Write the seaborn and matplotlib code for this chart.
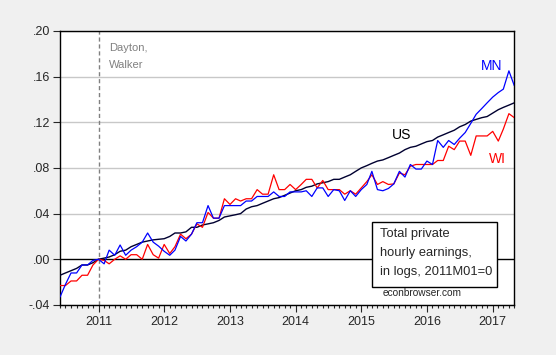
import matplotlib
matplotlib.use("Agg")
import matplotlib.pyplot as plt
import matplotlib.dates as mdates
from matplotlib.patches import Rectangle
from matplotlib.ticker import FuncFormatter
import pandas as pd
import seaborn as sns

# Monthly data, 2010M06 - 2017M05, log earnings relative to 2011M01
months = pd.date_range("2010-06-01", periods=84, freq="MS")

mn = [-0.033, -0.022, -0.012, -0.012, -0.005, -0.005, -0.001, 0.000,
      -0.004, 0.008, 0.0035, 0.0125, 0.0035, 0.008, 0.011, 0.015, 0.023, 0.015, 0.0115, 0.007,
      0.0035, 0.008, 0.020, 0.016, 0.022, 0.032, 0.032, 0.047, 0.036, 0.036, 0.047, 0.047,
      0.047, 0.047, 0.051, 0.051, 0.055, 0.055, 0.055, 0.059, 0.055, 0.055, 0.059, 0.059,
      0.059, 0.060, 0.055, 0.0625, 0.0625, 0.055, 0.061, 0.060, 0.0515, 0.060, 0.055, 0.061,
      0.0655, 0.077, 0.061, 0.060, 0.062, 0.066, 0.077, 0.072, 0.083, 0.079, 0.079, 0.086,
      0.083, 0.104, 0.098, 0.104, 0.1005, 0.106, 0.111, 0.119, 0.127, 0.132, 0.137, 0.142,
      0.146, 0.149, 0.165, 0.152]

wi = [-0.023, -0.023, -0.019, -0.019, -0.014, -0.014, -0.005, 0.000,
      -0.001, -0.004, 0.000, 0.003, 0.000, 0.004, 0.004, 0.000, 0.013, 0.004, 0.001, 0.013,
      0.005, 0.011, 0.022, 0.018, 0.022, 0.031, 0.028, 0.041, 0.036, 0.036, 0.053, 0.048,
      0.053, 0.051, 0.053, 0.053, 0.061, 0.057, 0.057, 0.074, 0.061, 0.061, 0.0655, 0.061,
      0.0655, 0.070, 0.070, 0.0625, 0.069, 0.061, 0.061, 0.061, 0.057, 0.060, 0.057, 0.0625,
      0.068, 0.074, 0.0655, 0.068, 0.0655, 0.066, 0.0755, 0.074, 0.0815, 0.083, 0.083, 0.083,
      0.083, 0.0865, 0.0865, 0.099, 0.096, 0.1035, 0.1035, 0.091, 0.108, 0.108, 0.108, 0.112,
      0.1035, 0.114, 0.1275, 0.124]

us = [-0.014, -0.012, -0.010, -0.008, -0.005, -0.005, -0.003, 0.000,
      0.001, 0.002, 0.004, 0.007, 0.008, 0.011, 0.013, 0.015, 0.016, 0.017, 0.0175, 0.018,
      0.020, 0.023, 0.023, 0.024, 0.028, 0.028, 0.030, 0.031, 0.032, 0.034, 0.037, 0.038,
      0.039, 0.040, 0.044, 0.046, 0.047, 0.049, 0.051, 0.053, 0.054, 0.056, 0.058, 0.060,
      0.061, 0.063, 0.064, 0.066, 0.067, 0.068, 0.070, 0.070, 0.072, 0.074, 0.077, 0.080,
      0.082, 0.084, 0.086, 0.087, 0.089, 0.091, 0.093, 0.096, 0.098, 0.099, 0.101, 0.103,
      0.104, 0.107, 0.109, 0.111, 0.113, 0.116, 0.118, 0.121, 0.1225, 0.124, 0.125, 0.128,
      0.131, 0.133, 0.135, 0.137]

yticks = [-0.04, 0.00, 0.04, 0.08, 0.12, 0.16, 0.20]

sns.set_style("white")
plt.rcParams["font.family"] = ["Liberation Sans", "DejaVu Sans"]

fig = plt.figure(figsize=(5.56, 3.55), dpi=100, facecolor="#F0F0F0")
ax = fig.add_axes([0.108, 0.141, 0.817, 0.772])
ax.set_facecolor("white")

# grid and reference lines
for v in yticks:
    if v != 0:
        ax.axhline(v, color="#C8C8C8", lw=1, zorder=1)
ax.axhline(0, color="black", lw=1, zorder=2)
ax.axvline(pd.Timestamp("2011-01-01"), color="#808080", lw=1, ls=(0, (3, 2)), zorder=2)

sns.lineplot(x=months, y=us, color="#000030", lw=1, ax=ax, zorder=3)
sns.lineplot(x=months, y=wi, color="#FF0000", lw=0.9, ax=ax, zorder=4)
sns.lineplot(x=months, y=mn, color="#0000FF", lw=0.9, ax=ax, zorder=5)

ax.set_xlim(months[0], months[-1])
ax.set_ylim(-0.04, 0.20)
ax.set_xlabel("")
ax.set_ylabel("")

ax.set_yticks(yticks)
ax.yaxis.set_major_formatter(FuncFormatter(lambda v, p: f"{v:.2f}".replace("0.", ".")))
ax.xaxis.set_major_locator(mdates.YearLocator())
ax.xaxis.set_major_formatter(mdates.DateFormatter("%Y"))
ax.xaxis.set_minor_locator(mdates.MonthLocator())
ax.tick_params(axis="y", direction="out", length=5, width=0.8, pad=2, labelsize=9,
               left=True, right=False)
ax.tick_params(axis="x", which="major", direction="out", length=5, width=0.8, pad=3,
               labelsize=9, bottom=True, top=False)
ax.tick_params(axis="x", which="minor", direction="out", length=2.5, width=0.8,
               bottom=True, top=False)

for s in ax.spines.values():
    s.set_color("black")
    s.set_linewidth(1)

# annotations
ax.text(pd.Timestamp("2011-03-01"), 0.185, "Dayton,", color="#808080", fontsize=8, va="center")
ax.text(pd.Timestamp("2011-03-01"), 0.170, "Walker", color="#808080", fontsize=8, va="center")
ax.text(pd.Timestamp("2016-10-28"), 0.169, "MN", color="#0000FF", fontsize=10, va="center")
ax.text(pd.Timestamp("2015-06-18"), 0.109, "US", color="black", fontsize=10, va="center")
ax.text(pd.Timestamp("2016-12-10"), 0.0875, "WI", color="#FF0000", fontsize=10, va="center")

ax.add_patch(Rectangle((0.687, 0.066), 0.276, 0.237, transform=ax.transAxes,
                       facecolor="white", edgecolor="black", lw=1, zorder=6))
for k, line in enumerate(["Total private", "hourly earnings,", "in logs, 2011M01=0"]):
    ax.text(0.705, 0.258 - k * 0.0695, line, transform=ax.transAxes, fontsize=9.3,
            va="center", ha="left", zorder=7)
ax.text(0.71, 0.044, "econbrowser.com", transform=ax.transAxes, fontsize=7.3,
        va="center", ha="left", zorder=7)

fig.savefig("out.png", dpi=100, facecolor=fig.get_facecolor())
